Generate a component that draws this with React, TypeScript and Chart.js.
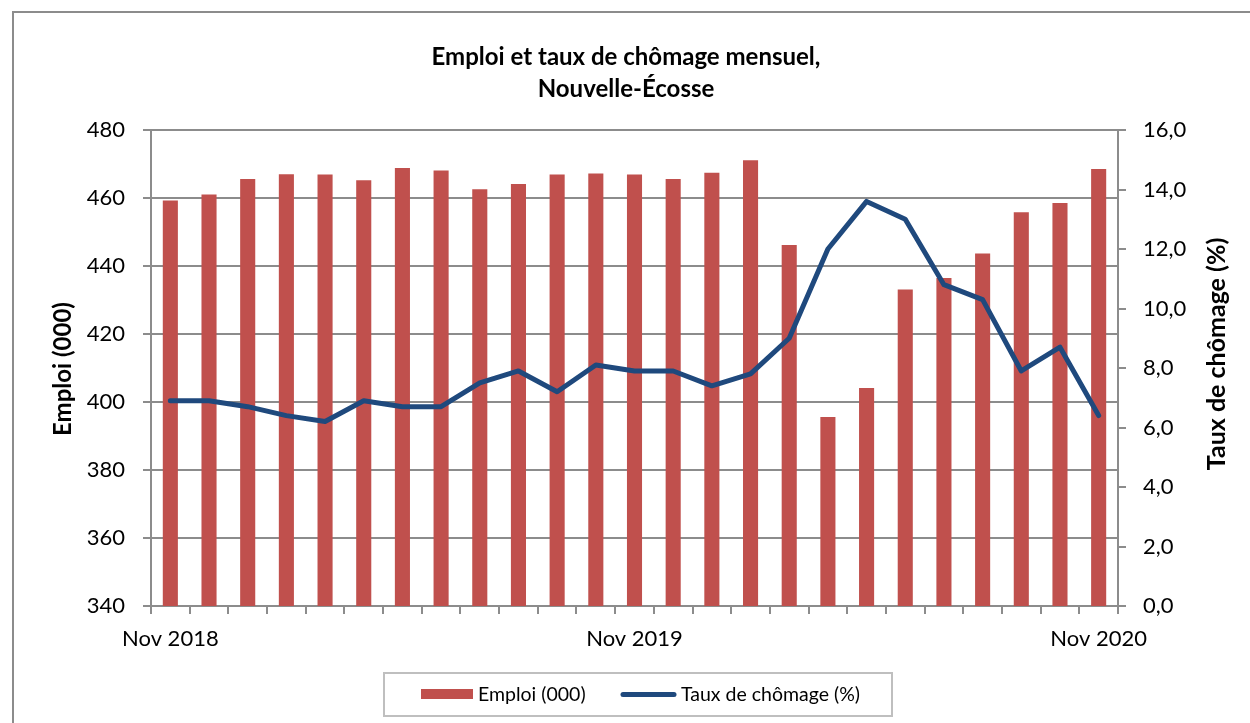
import React, { useEffect, useRef } from "react";
import { Chart, registerables } from "chart.js";

Chart.register(...registerables);

const categories = [
  "Nov 2018", "Déc 2018", "Jan 2019", "Fév 2019", "Mar 2019", "Avr 2019", "Mai 2019",
  "Juin 2019", "Juil 2019", "Août 2019", "Sep 2019", "Oct 2019", "Nov 2019", "Déc 2019",
  "Jan 2020", "Fév 2020", "Mar 2020", "Avr 2020", "Mai 2020", "Juin 2020", "Juil 2020",
  "Août 2020", "Sep 2020", "Oct 2020", "Nov 2020",
];

const emploi = [
  459.3, 461.0, 465.6, 467.0, 466.9, 465.2, 468.8, 468.1, 462.6, 464.1, 466.9, 467.2,
  466.9, 465.6, 467.4, 471.1, 446.2, 395.6, 404.1, 433.1, 436.5, 443.7, 455.8, 458.5, 468.5,
];

const tauxChomage = [
  6.9, 6.9, 6.7, 6.4, 6.2, 6.9, 6.7, 6.7, 7.5, 7.9, 7.2, 8.1,
  7.9, 7.9, 7.4, 7.8, 9.0, 12.0, 13.6, 13.0, 10.8, 10.3, 7.9, 8.7, 6.4,
];

const shownTickLabels = ["Nov 2018", "Nov 2019", "Nov 2020"];

const titleLines = ["Emploi et taux de chômage mensuel,", "Nouvelle-Écosse"];
const leftTitle = "Emploi (000)";
const rightTitle = "Taux de chômage (%)";
const legendLabels = ["Emploi (000)", "Taux de chômage (%)"];

const RED = "#c0504d";
const BLUE = "#1f497d";
const GRID = "#8c8c8c";
const FONT = "Lato";

const decorPlugin = {
  id: "decor",
  beforeDraw(chart: any) {
    const ctx = chart.ctx;
    ctx.save();
    ctx.fillStyle = "#ffffff";
    ctx.fillRect(0, 0, chart.width, chart.height);
    ctx.strokeStyle = GRID;
    ctx.lineWidth = 2;
    ctx.beginPath();
    ctx.moveTo(13, chart.height);
    ctx.lineTo(13, 12);
    ctx.lineTo(chart.width, 12);
    ctx.stroke();
    ctx.restore();
  },
  afterDraw(chart: any) {
    const ctx = chart.ctx;
    ctx.save();
    ctx.fillStyle = "#000";
    ctx.textAlign = "center";
    ctx.textBaseline = "middle";
    ctx.font = `bold 24px ${FONT}`;
    ctx.fillText(titleLines[0], 626, 57);
    ctx.fillText(titleLines[1], 626, 89);

    ctx.save();
    ctx.font = `bold 24px ${FONT}`;
    ctx.translate(63, 369);
    ctx.rotate(-Math.PI / 2);
    ctx.fillText(leftTitle, 0, 0);
    ctx.restore();
    ctx.save();
    ctx.font = `bold 25px ${FONT}`;
    ctx.translate(1217, 354);
    ctx.rotate(-Math.PI / 2);
    ctx.fillText(rightTitle, 0, 0);
    ctx.restore();

    // legend
    ctx.strokeStyle = "#bfbfbf";
    ctx.lineWidth = 2;
    ctx.strokeRect(384, 673, 508, 43);
    ctx.fillStyle = RED;
    ctx.fillRect(421, 689, 52, 10);
    ctx.strokeStyle = BLUE;
    ctx.lineWidth = 5;
    ctx.lineCap = "round";
    ctx.beginPath();
    ctx.moveTo(623, 694.5);
    ctx.lineTo(674, 694.5);
    ctx.stroke();
    ctx.fillStyle = "#000";
    ctx.textAlign = "left";
    ctx.font = `19.5px ${FONT}`;
    ctx.fillText(legendLabels[0], 478, 695);
    ctx.fillText(legendLabels[1], 681, 695);
    ctx.restore();
  },
};

export default function App() {
  const ref = useRef<HTMLCanvasElement | null>(null);
  useEffect(() => {
    if (!ref.current) return;
    Chart.defaults.font.family = FONT;
    const chart = new Chart(ref.current, {
      type: "bar",
      data: {
        labels: categories,
        datasets: [
          {
            type: "bar",
            label: legendLabels[0],
            data: emploi,
            backgroundColor: RED,
            borderWidth: 0,
            barPercentage: 0.39,
            categoryPercentage: 1,
            yAxisID: "y",
            order: 2,
          },
          {
            type: "line",
            label: legendLabels[1],
            data: tauxChomage,
            borderColor: BLUE,
            backgroundColor: BLUE,
            borderWidth: 5,
            pointRadius: 0,
            tension: 0,
            borderCapStyle: "round",
            borderJoinStyle: "round",
            yAxisID: "y1",
            order: 1,
          } as any,
        ],
      },
      options: {
        responsive: false,
        maintainAspectRatio: false,
        animation: false,
        layout: { padding: { top: 130, bottom: 67, left: 0, right: 0 } },
        plugins: {
          legend: { display: false },
          title: { display: false },
          tooltip: { enabled: false },
        },
        scales: {
          x: {
            offset: true,
            grid: {
              offset: true,
              drawOnChartArea: false,
              drawTicks: true,
              tickLength: 8,
              color: GRID,
              lineWidth: 2,
            },
            border: { display: true, color: GRID, width: 2 },
            ticks: {
              autoSkip: false,
              maxRotation: 0,
              minRotation: 0,
              padding: 12,
              color: "#000",
              font: { size: 22, family: FONT },
              callback: (_v: any, i: number) =>
                shownTickLabels.includes(categories[i]) ? categories[i] : "",
            },
            afterFit: (s: any) => {
              s.height = 50;
            },
          },
          y: {
            position: "left",
            min: 340,
            max: 480,
            ticks: {
              stepSize: 20,
              padding: 18,
              color: "#000",
              font: { size: 22, family: FONT },
            },
            grid: { color: GRID, lineWidth: 2, tickLength: 8 },
            border: { display: true, color: GRID, width: 2 },
            afterFit: (s: any) => {
              s.width = 151;
            },
          },
          y1: {
            position: "right",
            min: 0,
            max: 16,
            ticks: {
              stepSize: 2,
              padding: 17,
              color: "#000",
              font: { size: 22, family: FONT },
              callback: (v: any) => Number(v).toFixed(1).replace(".", ","),
            },
            grid: {
              drawOnChartArea: false,
              drawTicks: true,
              tickLength: 8,
              color: GRID,
              lineWidth: 2,
            },
            border: { display: true, color: GRID, width: 2 },
            afterFit: (s: any) => {
              s.width = 132;
            },
          },
        },
      },
      plugins: [decorPlugin],
    });
    return () => chart.destroy();
  }, []);

  return (
    <div style={{ position: "fixed", left: 0, top: 0, width: 1250, height: 723, background: "#fff" }}>
      <canvas ref={ref} width={1250} height={723} style={{ display: "block" }} />
    </div>
  );
}
